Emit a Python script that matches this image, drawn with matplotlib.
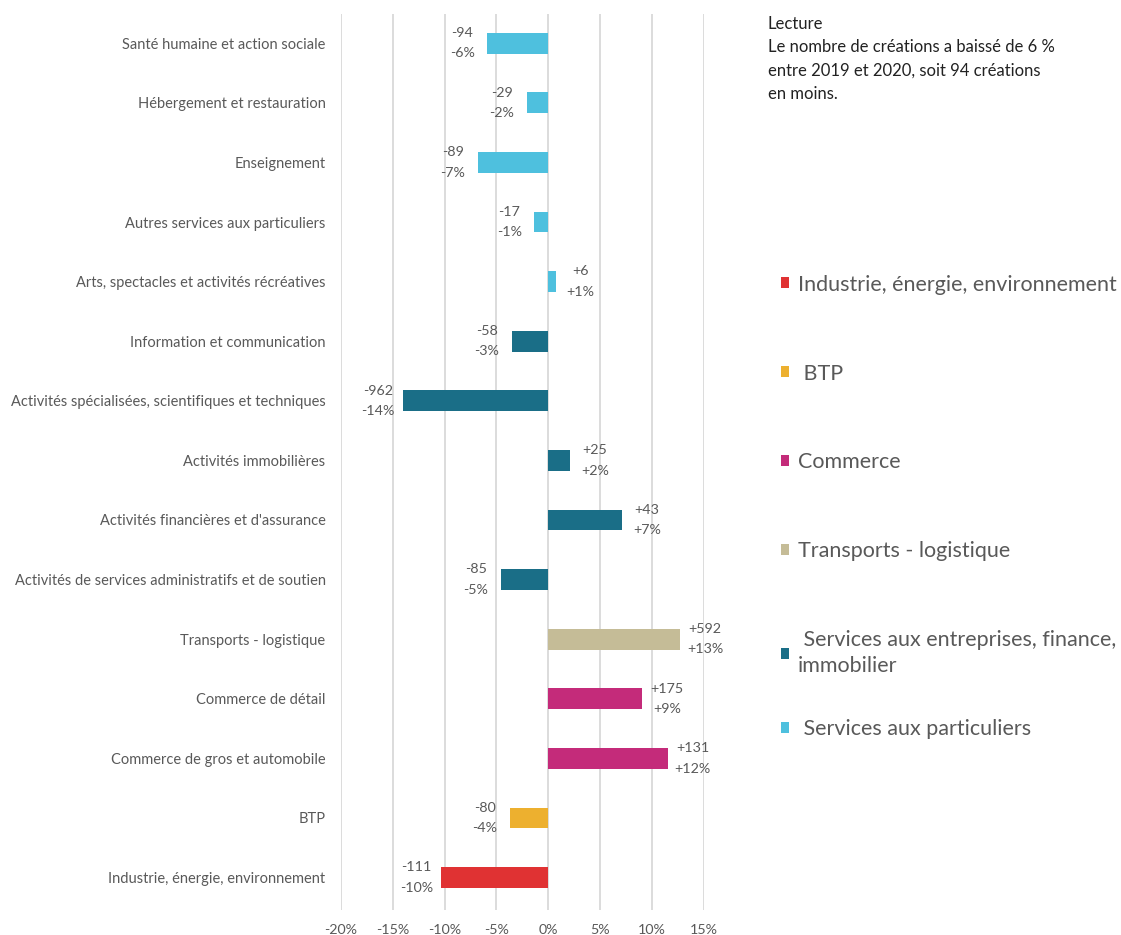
import matplotlib.pyplot as plt
from matplotlib.patches import Patch

plt.rcParams['font.family'] = ['Lato', 'DejaVu Sans']

# bottom to top
categories = ["Industrie, énergie, environnement", "BTP", "Commerce de gros et automobile",
              "Commerce de détail", "Transports - logistique",
              "Activités de services administratifs et de soutien",
              "Activités financières et d'assurance", "Activités immobilières",
              "Activités spécialisées, scientifiques et techniques",
              "Information et communication", "Arts, spectacles et activités récréatives",
              "Autres services aux particuliers", "Enseignement",
              "Hébergement et restauration", "Santé humaine et action sociale"]
pct = [-10.3, -3.7, 11.5, 9.0, 12.7, -4.6, 7.1, 2.1, -14.0, -3.5, 0.7, -1.35, -6.8, -2.1, -5.9]
counts = ["-111", "-80", "+131", "+175", "+592", "-85", "+43", "+25", "-962", "-58",
          "+6", "-17", "-89", "-29", "-94"]
pct_labels = ["-10%", "-4%", "+12%", "+9%", "+13%", "-5%", "+7%", "+2%", "-14%", "-3%",
              "+1%", "-1%", "-7%", "-2%", "-6%"]
groups = ["ind", "btp", "com", "com", "tra", "ent", "ent", "ent", "ent", "ent",
          "par", "par", "par", "par", "par"]

group_names = {"ind": "Industrie, énergie, environnement", "btp": " BTP",
               "com": "Commerce", "tra": "Transports - logistique",
               "ent": " Services aux entreprises, finance,\nimmobilier",
               "par": " Services aux particuliers"}
group_colors = {"ind": "#E03233", "btp": "#EDB02F", "com": "#C42B7A",
                "tra": "#C5BC97", "ent": "#1A6E87", "par": "#4EC0DE"}

fig = plt.figure(figsize=(11.21, 9.35), dpi=100)
ax = fig.add_axes([0.304, 0.027, 0.324, 0.958])

y = list(range(len(categories)))
ax.barh(y, pct, height=0.35, color=[group_colors[g] for g in groups], zorder=3)

for yi, v, c, p in zip(y, pct, counts, pct_labels):
    off = 18 if v > 0 else -18
    ax.annotate(f"{c}\n{p}", (v, yi), xytext=(off, 0), textcoords="offset points",
                ha="center", va="center", fontsize=10.3, color="#595959",
                linespacing=1.85, zorder=4)

ax.set_xlim(-20, 15)
ax.set_ylim(-0.54, len(categories) - 0.51)
ax.set_xticks(range(-20, 16, 5))
ax.set_xticklabels([f"{t}%" for t in range(-20, 16, 5)], fontsize=10.3, color="#595959")
ax.set_yticks(y)
ax.set_yticklabels(categories, fontsize=10.5, color="#595959")
ax.tick_params(length=0, pad=11)
ax.tick_params(axis="x", pad=10)
ax.grid(axis="x", color="#D9D9D9", linewidth=1.3, zorder=0)
for s in ax.spines.values():
    s.set_visible(False)

fig.text(0.685, 0.983, "Lecture\nLe nombre de créations a baissé de 6 %\n"
         "entre 2019 et 2020, soit 94 créations\nen moins.",
         ha="left", va="top", fontsize=12, color="#222222", linespacing=1.56)

# legend: the last entry sits closer to the two-line one, so it gets its own box
order = ["ind", "btp", "com", "tra", "ent"]
leg_kw = dict(loc="upper left", frameon=False, fontsize=15.5, handlelength=0.4,
              handleheight=0.4, handletextpad=0.4, labelspacing=3.2)
leg = fig.legend([Patch(facecolor=group_colors[g]) for g in order],
                 [group_names[g] for g in order], bbox_to_anchor=(0.679, 0.727), **leg_kw)
leg2 = fig.legend([Patch(facecolor=group_colors["par"])], [group_names["par"]],
                  bbox_to_anchor=(0.679, 0.2513), **leg_kw)
for lg in (leg, leg2):
    for t in lg.get_texts():
        t.set_color("#595959")
        t.set_linespacing(1.35)

fig.savefig("out.png", dpi=100)
